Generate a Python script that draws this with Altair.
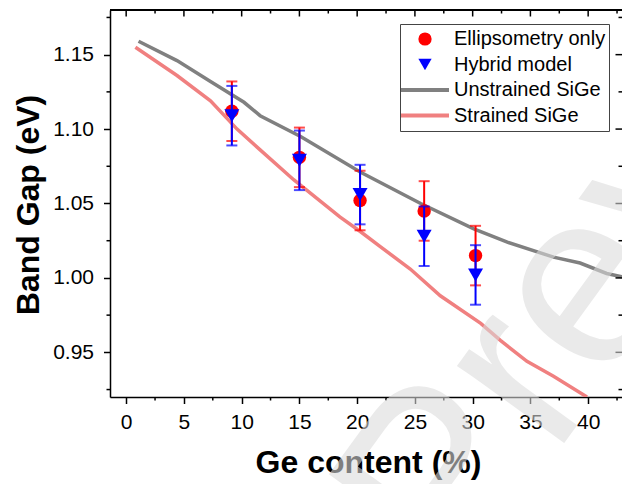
import altair as alt
import pandas as pd

# Measured samples: Ge content (%) and band gap (eV)
ge_content = [9.15, 15.0, 20.25, 25.8, 30.25]
ellipsometry_gap = [1.112, 1.081, 1.052, 1.045, 1.015]
ellipsometry_err = [0.020, 0.020, 0.020, 0.020, 0.020]
hybrid_gap = [1.109, 1.079, 1.056, 1.028, 1.002]
hybrid_err = [0.020, 0.020, 0.020, 0.020, 0.020]

# Reference curves
unstrained_x = [1.07, 4.4, 7.3, 10.2, 11.6, 15.1, 20.3, 25.5, 30.1, 33.0, 37.0, 39.3, 41.6, 42.93]
unstrained_y = [1.159, 1.146, 1.132, 1.118, 1.109, 1.095, 1.071, 1.050, 1.033, 1.024, 1.014, 1.010, 1.003, 1.0007]
strained_x = [0.8, 4.4, 7.3, 9.6, 11.6, 14.5, 18.5, 20.3, 22.0, 24.6, 27.2, 30.7, 32.4, 34.7, 37.0, 39.9]
strained_y = [1.155, 1.136, 1.119, 1.100, 1.086, 1.066, 1.041, 1.031, 1.021, 1.006, 0.988, 0.9695, 0.958, 0.944, 0.934, 0.920]

series_names = ["Ellipsometry only", "Hybrid model", "Unstrained SiGe", "Strained SiGe"]
series_colors = ["#ff0000", "#0000ff", "#808080", "#f08080"]
series_shapes = ["circle", "triangle-down", "stroke", "stroke"]
curve_names = series_names[2:]
curve_colors = series_colors[2:]

x_major = [0, 5, 10, 15, 20, 25, 30, 35, 40]
x_minor = [2.5, 7.5, 12.5, 17.5, 22.5, 27.5, 32.5, 37.5, 42.5]
y_major = [0.95, 1.0, 1.05, 1.1, 1.15]
y_minor = [0.925, 0.975, 1.025, 1.075, 1.125, 1.175]

W, H = 512, 387
FONT = "Liberation Sans"
MAJOR, MINOR = 6.5, 3.5

pts_ellip = pd.DataFrame({"x": ge_content, "y": ellipsometry_gap,
                          "lo": [v - e for v, e in zip(ellipsometry_gap, ellipsometry_err)],
                          "hi": [v + e for v, e in zip(ellipsometry_gap, ellipsometry_err)],
                          "series": series_names[0]})
pts_hybrid = pd.DataFrame({"x": ge_content, "y": hybrid_gap,
                           "lo": [v - e for v, e in zip(hybrid_gap, hybrid_err)],
                           "hi": [v + e for v, e in zip(hybrid_gap, hybrid_err)],
                           "series": series_names[1]})
curves = pd.concat([
    pd.DataFrame({"x": unstrained_x, "y": unstrained_y, "series": series_names[2]}),
    pd.DataFrame({"x": strained_x, "y": strained_y, "series": series_names[3]}),
])

x_scale = alt.Scale(domain=[-1.4, 42.93], nice=False, zero=False)
y_scale = alt.Scale(domain=[0.92, 1.18], nice=False, zero=False)

x_axis = alt.Axis(
    values=x_major, title="Ge content (%)", grid=False, format="d",
    labelFont=FONT, labelFontSize=21, labelColor="black", labelPadding=8,
    tickColor="black", tickWidth=1.5, tickSize=MAJOR,
    domainColor="black", domainWidth=1.5,
    titleFont=FONT, titleFontSize=32, titleFontWeight="bold", titleColor="black",
    titleBaseline="alphabetic", titleAlign="center", titleX=W / 2 + 2, titleY=75,
)
y_axis = alt.Axis(
    values=y_major, title="Band Gap (eV)", grid=False, format=".2f",
    labelFont=FONT, labelFontSize=21, labelColor="black", labelPadding=10,
    tickColor="black", tickWidth=1.5, tickSize=MAJOR,
    domainColor="black", domainWidth=1.5,
    titleFont=FONT, titleFontSize=32, titleFontWeight="bold", titleColor="black",
    titleAngle=270, titleBaseline="middle", titleAlign="center", titleX=-82, titleY=H / 2 + 1,
)

# Boxed legend: one row per series (marker symbols drawn here)
legend_main = alt.Legend(
    title=None, orient="none", legendX=290, legendY=14, direction="vertical",
    labelFont=FONT, labelFontSize=20, labelColor="black", labelLimit=400, labelOffset=19,
    symbolSize=175, symbolStrokeWidth=0, symbolOpacity=1, symbolOffset=12,
    clipHeight=24, rowPadding=1.5, padding=3,
    strokeColor="#444444", fillColor="white", zindex=0,
)
# Line swatches for the two curves, laid over the last two rows
legend_lines = alt.Legend(
    title=None, orient="none", legendX=291, legendY=68, direction="vertical",
    labelFont=FONT, labelFontSize=20, labelExpr="''",
    symbolType="stroke", symbolSize=2304, symbolStrokeWidth=4, symbolOpacity=1, symbolOffset=-2,
    clipHeight=24, rowPadding=1.5, padding=0, strokeColor="transparent", zindex=1,
)

color = alt.Color("series:N", scale=alt.Scale(domain=series_names, range=series_colors), legend=legend_main)
shape = alt.Shape("series:N", scale=alt.Scale(domain=series_names, range=series_shapes), legend=legend_main)
stroke = alt.Stroke("series:N", scale=alt.Scale(domain=curve_names, range=curve_colors), legend=legend_lines)


def xq(field):
    return alt.X(f"{field}:Q", scale=x_scale, axis=x_axis)


def yq(field):
    return alt.Y(f"{field}:Q", scale=y_scale, axis=y_axis)


lines = alt.Chart(curves).mark_line(strokeWidth=3.5, clip=True).encode(
    x=xq("x"), y=yq("y"), stroke=stroke, detail="series:N"
)


def error_layers(df, col):
    bar = alt.Chart(df).mark_rule(color=col, strokeWidth=2).encode(x=xq("x"), y=yq("lo"), y2="hi")
    cap_lo = alt.Chart(df).mark_tick(color=col, orient="horizontal", size=11, thickness=2).encode(x=xq("x"), y=yq("lo"))
    cap_hi = alt.Chart(df).mark_tick(color=col, orient="horizontal", size=11, thickness=2).encode(x=xq("x"), y=yq("hi"))
    return [bar, cap_lo, cap_hi]


ellip_pts = alt.Chart(pts_ellip).mark_point(filled=True, size=180, opacity=1).encode(
    x=xq("x"), y=yq("y"), color=color, shape=shape
)
hybrid_pts = alt.Chart(pts_hybrid).mark_point(filled=True, size=225, opacity=1).encode(
    x=xq("x"), y=yq("y"), color=color, shape=shape
)

# Minor ticks (outward on bottom/left), inward ticks on top/right, top frame line
xt_major = pd.DataFrame({"v": x_major})
xt_minor = pd.DataFrame({"v": x_minor})
yt_major = pd.DataFrame({"v": y_major})
yt_minor = pd.DataFrame({"v": y_minor})


def rule(df):
    return alt.Chart(df).mark_rule(color="black", strokeWidth=1.5)


frame = [
    rule(xt_minor).encode(x=xq("v"), y=alt.value(H), y2=alt.value(H + MINOR)),
    rule(yt_minor).encode(y=yq("v"), x=alt.value(-MINOR), x2=alt.value(0)),
    rule(xt_major).encode(x=xq("v"), y=alt.value(0), y2=alt.value(MAJOR)),
    rule(xt_minor).encode(x=xq("v"), y=alt.value(0), y2=alt.value(MINOR)),
    rule(yt_major).encode(y=yq("v"), x=alt.value(W - MAJOR), x2=alt.value(W)),
    rule(yt_minor).encode(y=yq("v"), x=alt.value(W - MINOR), x2=alt.value(W)),
    rule(xt_major).encode(x=alt.value(0), x2=alt.value(W), y=alt.value(0)),
]

watermark = alt.Chart(pd.DataFrame({"t": ["Preview"]})).mark_text(
    angle=306, fontSize=250, font=FONT, color="#dbdbdb", opacity=0.58,
    align="left", baseline="alphabetic"
).encode(text="t:N", x=alt.value(346), y=alt.value(582))

chart = alt.layer(
    lines,
    *error_layers(pts_ellip, "#ff0000"),
    ellip_pts,
    *error_layers(pts_hybrid, "#0000ff"),
    hybrid_pts,
    *frame,
    watermark,
).properties(
    width=W, height=H,
    autosize=alt.AutoSizeParams(type="none"),
    padding={"left": 110, "top": 10, "right": 0, "bottom": 87},
).configure_view(stroke=None).configure(background="white")

chart.save("out.html", embed_options={"renderer": "svg", "actions": False})
